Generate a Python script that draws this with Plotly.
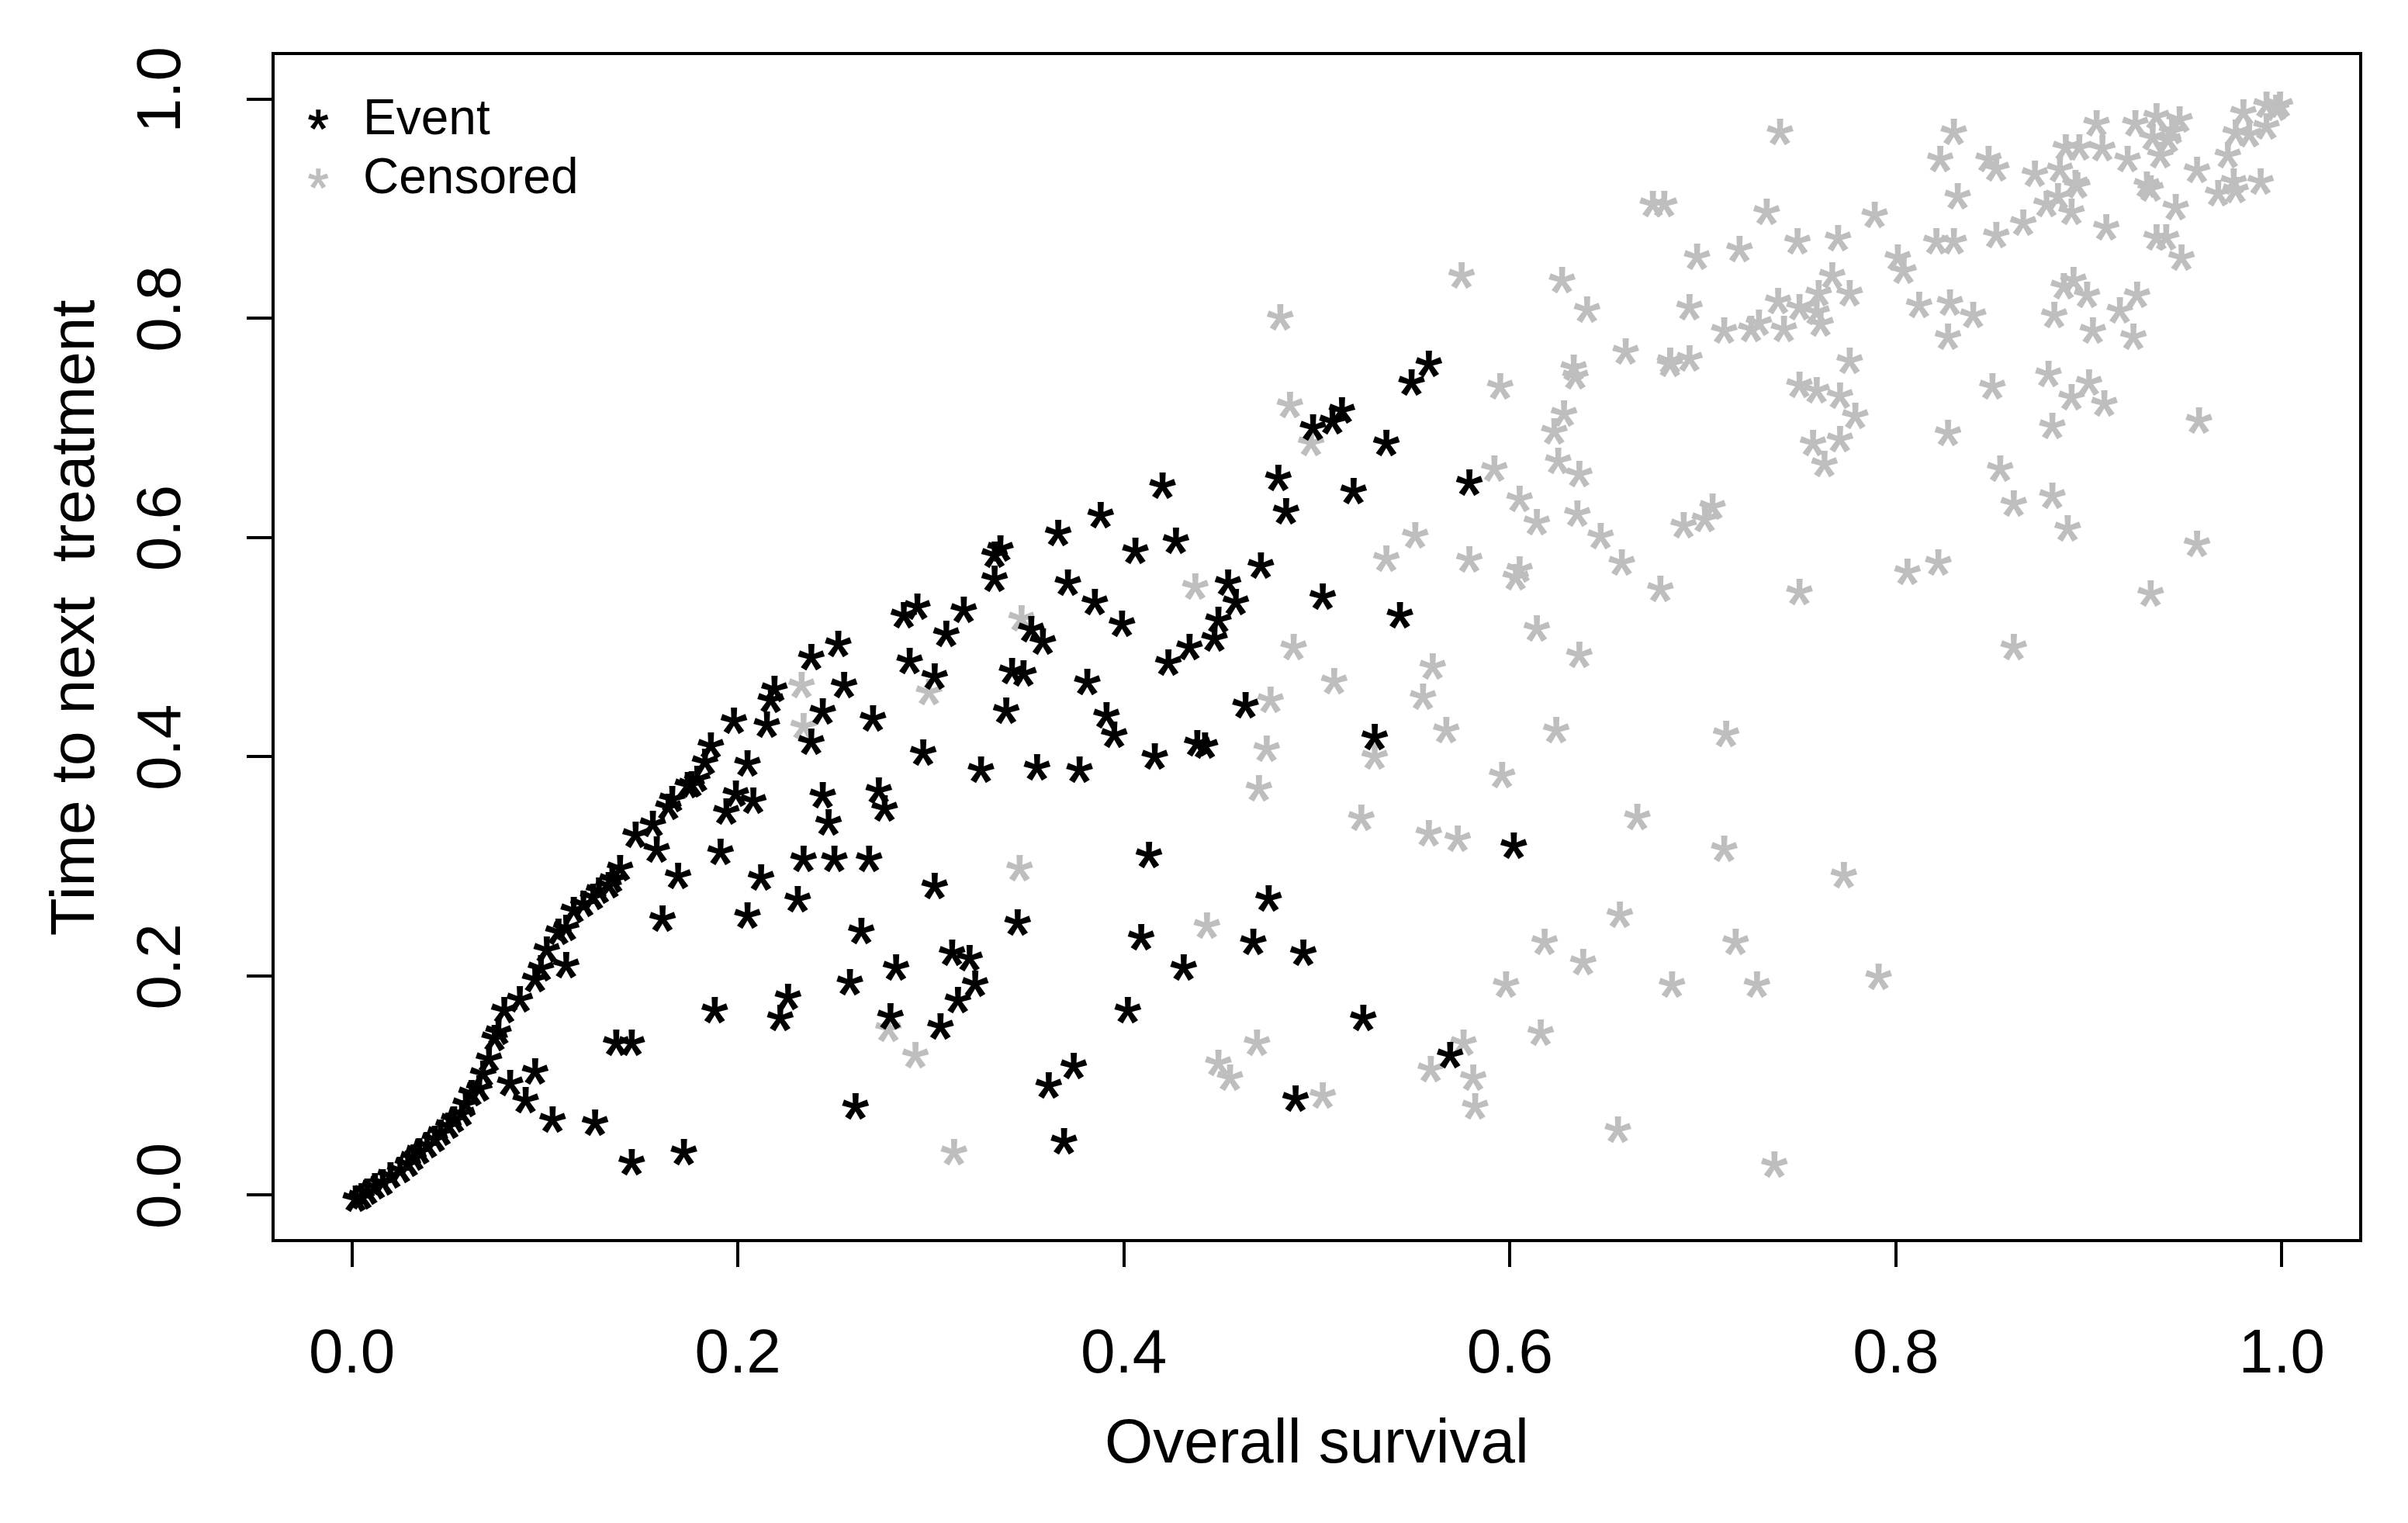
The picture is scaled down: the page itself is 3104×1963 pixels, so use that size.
import plotly.graph_objects as go

# ---------------- data ----------------
event_x = [
    0.139, 0.135, 0.133, 0.128, 0.125, 0.120, 0.115, 0.111, 0.107, 0.101, 0.098, 0.095, 0.087, 0.079,
    0.076, 0.074, 0.071, 0.068, 0.066, 0.062, 0.059, 0.057, 0.053, 0.050, 0.046, 0.043, 0.039, 0.035,
    0.032, 0.029, 0.025, 0.020, 0.016, 0.012, 0.008, 0.005, 0.002,
    0.158, 0.191, 0.169, 0.212, 0.231, 0.161, 0.205, 0.111, 0.188, 0.226, 0.222, 0.137, 0.145, 0.095,
    0.082, 0.090, 0.104, 0.126, 0.145, 0.172,
    0.219, 0.217, 0.198, 0.215, 0.186, 0.183, 0.179, 0.176, 0.174, 0.205, 0.199, 0.208, 0.194, 0.166,
    0.164, 0.156, 0.147,
    0.420, 0.480, 0.484, 0.388, 0.366, 0.406, 0.427, 0.336, 0.333, 0.333,
    0.471, 0.371, 0.454, 0.458, 0.385, 0.399, 0.449, 0.447, 0.434, 0.423,
    0.286, 0.293, 0.317, 0.308, 0.352, 0.358, 0.252, 0.238, 0.289, 0.302,
    0.342, 0.348, 0.381, 0.255, 0.463, 0.339, 0.244, 0.270, 0.391, 0.395,
    0.238, 0.438, 0.442, 0.416, 0.296, 0.326, 0.355, 0.377, 0.244, 0.273,
    0.276, 0.247,
    0.234, 0.250, 0.268, 0.413, 0.302, 0.475, 0.264, 0.345, 0.409, 0.467, 0.493, 0.311, 0.320, 0.282,
    0.431, 0.258, 0.323, 0.314, 0.402, 0.279, 0.305, 0.374, 0.361, 0.489, 0.261, 0.369,
    0.498, 0.558, 0.549, 0.513, 0.508, 0.536,
    0.579, 0.519, 0.503, 0.543, 0.530, 0.602,
    0.524, 0.569,
]
event_y = [
    0.301, 0.291, 0.286, 0.281, 0.275, 0.269, 0.263, 0.247, 0.243, 0.227, 0.210, 0.200, 0.182, 0.172,
    0.152, 0.146, 0.127, 0.114, 0.100, 0.096, 0.086, 0.078, 0.072, 0.066, 0.060, 0.054, 0.049, 0.043,
    0.037, 0.032, 0.026, 0.021, 0.015, 0.011, 0.006, 0.002, 0.000,
    0.318, 0.316, 0.294, 0.293, 0.273, 0.255, 0.258, 0.213, 0.172, 0.184, 0.165, 0.142, 0.142, 0.116,
    0.105, 0.090, 0.072, 0.069, 0.033, 0.042,
    0.465, 0.455, 0.436, 0.432, 0.413, 0.398, 0.383, 0.378, 0.377, 0.397, 0.369, 0.363, 0.353, 0.364,
    0.357, 0.342, 0.332,
    0.650, 0.657, 0.627, 0.623, 0.607, 0.591, 0.600, 0.593, 0.587, 0.565,
    0.577, 0.562, 0.562, 0.544, 0.544, 0.524, 0.528, 0.511, 0.503, 0.489,
    0.532, 0.540, 0.537, 0.515, 0.519, 0.508, 0.506, 0.494, 0.490, 0.476,
    0.481, 0.479, 0.471, 0.468, 0.450, 0.445, 0.444, 0.438, 0.441, 0.423,
    0.417, 0.415, 0.413, 0.403, 0.407, 0.391, 0.393, 0.391, 0.368, 0.372,
    0.356, 0.343,
    0.310, 0.310, 0.310, 0.313, 0.285, 0.274, 0.244, 0.252, 0.238, 0.234, 0.224, 0.224, 0.219, 0.211,
    0.211, 0.197, 0.196, 0.181, 0.172, 0.166, 0.157, 0.121, 0.103, 0.091, 0.084, 0.052,
    0.703, 0.761, 0.744, 0.719, 0.709, 0.689,
    0.653, 0.645, 0.549, 0.532, 0.421, 0.322,
    0.165, 0.131,
]

censored_x = [
    0.481, 0.486, 0.497,
    0.740, 0.674, 0.680, 0.733, 0.749, 0.770, 0.719, 0.697, 0.575, 0.627, 0.767, 0.760, 0.776, 0.640,
    0.693, 0.739, 0.750, 0.759, 0.761, 0.711, 0.725, 0.729, 0.742, 0.660, 0.683, 0.683, 0.693, 0.633,
    0.634, 0.776, 0.595, 0.750, 0.759, 0.771, 0.628, 0.623, 0.757, 0.771,
    0.830, 0.823, 0.848, 0.852, 0.872, 0.885, 0.888, 0.895, 0.904, 0.907,
    0.920, 0.924, 0.935, 0.947, 0.943, 0.933, 0.941, 0.937, 0.980, 0.992,
    0.999, 0.997, 0.976, 0.983, 0.992, 0.972, 0.956, 0.975, 0.976, 0.967,
    0.989, 0.893, 0.894, 0.884, 0.878, 0.891, 0.930, 0.932, 0.832, 0.945,
    0.789, 0.866, 0.852, 0.821, 0.830, 0.909, 0.935, 0.940, 0.948, 0.801,
    0.804, 0.812, 0.828, 0.840, 0.887, 0.892, 0.899, 0.925, 0.916, 0.882,
    0.902, 0.923, 0.827, 0.850, 0.879, 0.900, 0.891, 0.908, 0.957, 0.779,
    0.827, 0.881,
    0.854, 0.861, 0.881, 0.889, 0.956, 0.806, 0.822, 0.932, 0.861,
    0.592, 0.625, 0.636, 0.763, 0.605, 0.635, 0.614, 0.705, 0.701, 0.690,
    0.647, 0.551, 0.536, 0.579, 0.605, 0.603, 0.658, 0.678, 0.750, 0.614,
    0.636, 0.560, 0.509, 0.555, 0.567, 0.624, 0.712, 0.530, 0.596, 0.523,
    0.666, 0.558, 0.573, 0.711,
    0.773, 0.657, 0.618, 0.717, 0.638, 0.598, 0.684, 0.728, 0.616, 0.576, 0.559, 0.581, 0.582, 0.656,
    0.737,
    0.791,
    0.437, 0.488, 0.347, 0.299, 0.233, 0.476, 0.234, 0.474, 0.470, 0.346, 0.443, 0.278, 0.292, 0.469,
    0.449, 0.455, 0.503, 0.312,
]
censored_y = [
    0.804, 0.724, 0.689,
    0.973, 0.907, 0.907, 0.900, 0.873, 0.876, 0.866, 0.859, 0.842, 0.838, 0.842, 0.826, 0.826, 0.811,
    0.813, 0.819, 0.813, 0.809, 0.798, 0.792, 0.793, 0.799, 0.793, 0.773, 0.764, 0.761, 0.766, 0.758,
    0.750, 0.764, 0.741, 0.742, 0.737, 0.732, 0.716, 0.700, 0.689, 0.693,
    0.973, 0.948, 0.948, 0.940, 0.935, 0.939, 0.959, 0.959, 0.981, 0.958,
    0.948, 0.981, 0.987, 0.984, 0.974, 0.968, 0.966, 0.952, 0.991, 0.998,
    0.998, 0.995, 0.972, 0.971, 0.978, 0.952, 0.938, 0.928, 0.920, 0.917,
    0.928, 0.926, 0.924, 0.914, 0.907, 0.900, 0.925, 0.921, 0.914, 0.904,
    0.897, 0.890, 0.879, 0.873, 0.873, 0.886, 0.877, 0.877, 0.858, 0.858,
    0.846, 0.815, 0.817, 0.806, 0.832, 0.838, 0.824, 0.824, 0.810, 0.806,
    0.792, 0.786, 0.786, 0.741, 0.752, 0.744, 0.731, 0.725, 0.710, 0.714,
    0.698, 0.705,
    0.666, 0.634, 0.641, 0.611, 0.597, 0.572, 0.580, 0.552, 0.503,
    0.666, 0.673, 0.661, 0.670, 0.638, 0.625, 0.617, 0.631, 0.620, 0.614,
    0.604, 0.605, 0.584, 0.583, 0.574, 0.567, 0.580, 0.556, 0.553, 0.520,
    0.496, 0.485, 0.472, 0.458, 0.427, 0.427, 0.424, 0.403, 0.386, 0.347,
    0.348, 0.333, 0.328, 0.319,
    0.295, 0.259, 0.234, 0.234, 0.216, 0.195, 0.195, 0.195, 0.151, 0.142, 0.118, 0.110, 0.084, 0.063,
    0.031,
    0.202,
    0.558, 0.503, 0.529, 0.462, 0.468, 0.455, 0.431, 0.410, 0.374, 0.301, 0.249, 0.155, 0.131, 0.142,
    0.124, 0.110, 0.094, 0.042,
]

tick_vals = [0.0, 0.2, 0.4, 0.6, 0.8, 1.0]
tick_text = ["0.0", "0.2", "0.4", "0.6", "0.8", "1.0"]
legend_labels = ["Event", "Censored"]
x_title = "Overall survival"
y_title = "Time to next\u00a0 treatment"

# ---------------- styling ----------------
FONT = "Liberation Sans"
EVENT_COL = "#000000"
CENS_COL = "#BEBEBE"
STAR_PX = 90
CENTER_FONT = round(STAR_PX * 2.275)  # outer size only used for vertical centring of the glyph


def star(col, px, sw):
    return "<span style='font-size:%dpx;stroke:%s;stroke-width:%spx'>*</span>" % (px, col, sw)


fig = go.Figure()
for xs, ys, col in [(censored_x, censored_y, CENS_COL), (event_x, event_y, EVENT_COL)]:
    fig.add_trace(go.Scatter(
        x=xs, y=ys, mode="text", text=star(col, STAR_PX, 2), textposition="middle center",
        textfont=dict(family=FONT, size=CENTER_FONT, color=col),
        hoverinfo="skip", showlegend=False,
    ))

axis_common = dict(
    range=[-0.04, 1.04], tickvals=tick_vals, ticktext=tick_text,
    ticks="outside", ticklen=32, tickwidth=4, tickcolor="black",
    showline=True, linewidth=4, linecolor="black", mirror=True,
    showgrid=False, zeroline=False,
    tickfont=dict(family=FONT, size=80, color="black"),
)

# the page body has an 8px margin, so the figure is 8px smaller each way
fig.update_layout(
    width=3096, height=1955,
    margin=dict(l=346, r=63, t=63, b=366, autoexpand=False),
    paper_bgcolor="white", plot_bgcolor="white",
    showlegend=False,
    xaxis=dict(**axis_common, ticklabelstandoff=40),
    yaxis=dict(**axis_common, tickangle=-90, ticklabelstandoff=54),
)

ann = []
# axis titles
ann.append(dict(text=x_title, xref="paper", yref="paper", x=0.5, y=-0.171,
                xanchor="center", yanchor="middle", showarrow=False,
                font=dict(family=FONT, size=80, color="black")))
ann.append(dict(text=y_title, xref="paper", yref="paper", x=-0.097, y=0.525,
                xanchor="center", yanchor="middle", textangle=-90, showarrow=False,
                font=dict(family=FONT, size=80, color="black")))
# legend
for i, (lab, col) in enumerate(zip(legend_labels, [EVENT_COL, CENS_COL])):
    yy = [0.9476, 0.8975][i]
    ann.append(dict(text=star(col, 68, 1.5), xref="paper", yref="paper", x=0.0208, y=yy, yshift=-14,
                    xanchor="center", yanchor="middle", showarrow=False,
                    font=dict(family=FONT, size=68, color=col)))
    ann.append(dict(text=lab, xref="paper", yref="paper", x=0.0415, y=yy,
                    xanchor="left", yanchor="middle", showarrow=False,
                    font=dict(family=FONT, size=64, color="black")))
fig.update_layout(annotations=ann)

fig.write_html("out.html")
